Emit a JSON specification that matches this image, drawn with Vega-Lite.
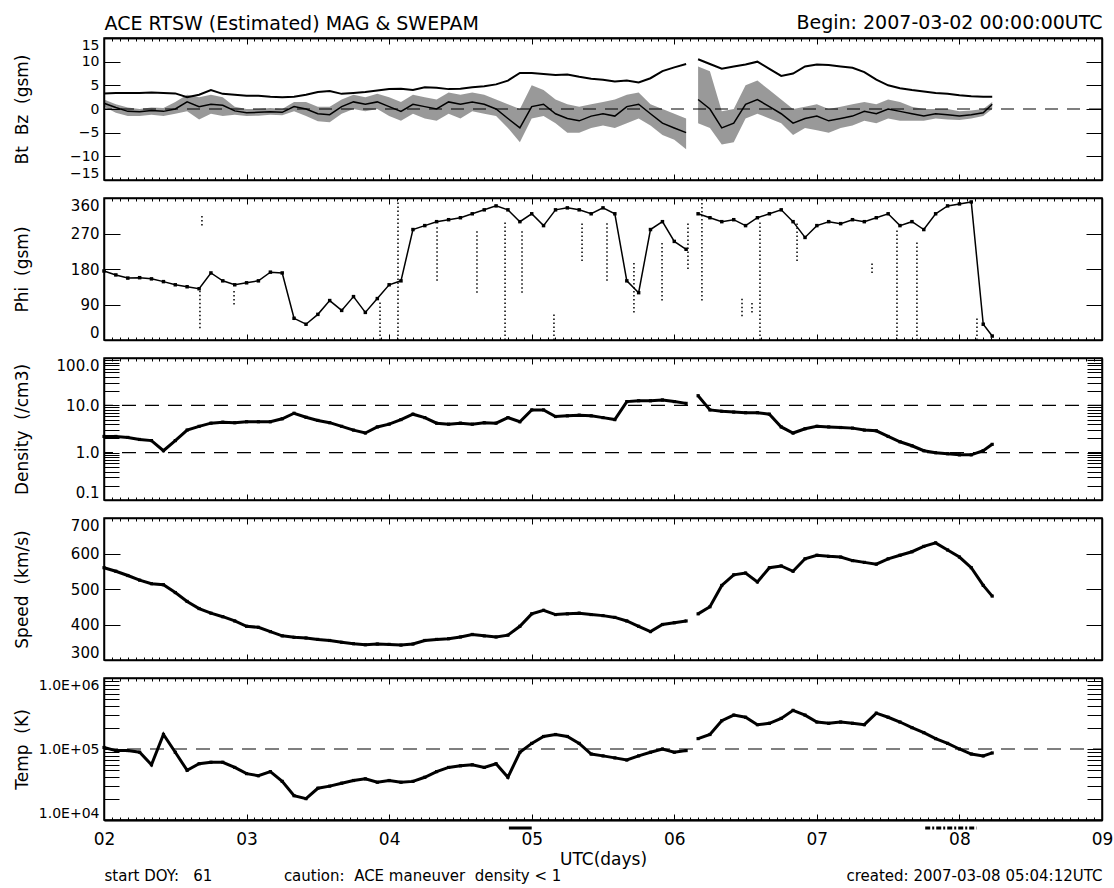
{
  "$schema": "https://vega.github.io/schema/vega-lite/v6.json",
  "background": "white",
  "padding": {"left": 12, "top": 12, "right": 5, "bottom": 5},
  "spacing": 18,
  "bounds": "flush",
  "config": {
    "font": "DejaVu Sans",
    "view": {"stroke": "black", "strokeWidth": 1.5},
    "axis": {"grid": false, "domainColor": "black", "domainWidth": 1.5, "tickColor": "black", "tickWidth": 1, "labelColor": "black", "titleColor": "black", "labelOverlap": false, "titleFontWeight": "normal", "labelFontSize": 15, "titleFontSize": 17, "labelFont": "DejaVu Sans", "titleFont": "DejaVu Sans"}
  },
  "datasets": {
    "sw": [
      {"t":2.000,"seg":1,"bt":3.3,"bz":1.2,"bzl":0.5,"bzh":2.0,"phi":175,"n":2.2,"v":560,"T":105000},
      {"t":2.083,"seg":1,"bt":3.4,"bz":0.3,"bzl":-0.8,"bzh":1.0,"phi":165,"n":2.2,"v":550,"T":95000},
      {"t":2.167,"seg":1,"bt":3.4,"bz":-0.5,"bzl":-1.5,"bzh":0.3,"phi":157,"n":2.1,"v":538,"T":95000},
      {"t":2.250,"seg":1,"bt":3.4,"bz":-0.6,"bzl":-1.5,"bzh":0.0,"phi":158,"n":1.9,"v":525,"T":90000},
      {"t":2.333,"seg":1,"bt":3.5,"bz":-0.3,"bzl":-1.2,"bzh":0.3,"phi":155,"n":1.8,"v":515,"T":60000},
      {"t":2.417,"seg":1,"bt":3.4,"bz":-0.5,"bzl":-1.5,"bzh":0.2,"phi":148,"n":1.1,"v":512,"T":160000},
      {"t":2.500,"seg":1,"bt":3.3,"bz":0.0,"bzl":-1.0,"bzh":1.5,"phi":140,"n":1.8,"v":490,"T":90000},
      {"t":2.583,"seg":1,"bt":2.5,"bz":1.5,"bzl":-0.5,"bzh":3.0,"phi":135,"n":3.0,"v":465,"T":50000},
      {"t":2.667,"seg":1,"bt":3.0,"bz":0.5,"bzl":-2.2,"bzh":2.5,"phi":130,"n":3.6,"v":445,"T":62000},
      {"t":2.750,"seg":1,"bt":4.0,"bz":1.0,"bzl":-1.0,"bzh":3.0,"phi":170,"n":4.2,"v":432,"T":65000},
      {"t":2.833,"seg":1,"bt":3.2,"bz":0.8,"bzl":-1.5,"bzh":2.5,"phi":150,"n":4.4,"v":422,"T":65000},
      {"t":2.917,"seg":1,"bt":3.0,"bz":-0.4,"bzl":-1.2,"bzh":0.5,"phi":140,"n":4.3,"v":410,"T":55000},
      {"t":3.000,"seg":1,"bt":2.8,"bz":-0.8,"bzl":-1.5,"bzh":0.0,"phi":145,"n":4.5,"v":395,"T":45000},
      {"t":3.083,"seg":1,"bt":2.8,"bz":-0.7,"bzl":-1.4,"bzh":0.0,"phi":150,"n":4.5,"v":392,"T":42000},
      {"t":3.167,"seg":1,"bt":2.6,"bz":-0.6,"bzl":-1.2,"bzh":0.2,"phi":172,"n":4.5,"v":380,"T":48000},
      {"t":3.250,"seg":1,"bt":2.5,"bz":-0.7,"bzl":-1.3,"bzh":0.0,"phi":170,"n":5.2,"v":368,"T":35000},
      {"t":3.333,"seg":1,"bt":2.6,"bz":0.5,"bzl":-0.5,"bzh":1.5,"phi":55,"n":6.8,"v":364,"T":22000},
      {"t":3.417,"seg":1,"bt":3.0,"bz":0.0,"bzl":-1.5,"bzh":1.5,"phi":40,"n":5.6,"v":362,"T":20000},
      {"t":3.500,"seg":1,"bt":3.6,"bz":-1.0,"bzl":-2.6,"bzh":0.5,"phi":65,"n":4.8,"v":358,"T":28000},
      {"t":3.583,"seg":1,"bt":3.8,"bz":-1.2,"bzl":-2.8,"bzh":0.5,"phi":100,"n":4.3,"v":355,"T":30000},
      {"t":3.667,"seg":1,"bt":3.2,"bz":0.5,"bzl":-1.0,"bzh":2.0,"phi":75,"n":3.6,"v":350,"T":33000},
      {"t":3.750,"seg":1,"bt":3.4,"bz":1.5,"bzl":0.0,"bzh":3.0,"phi":110,"n":3.0,"v":346,"T":36000},
      {"t":3.833,"seg":1,"bt":3.6,"bz":1.0,"bzl":-0.5,"bzh":2.5,"phi":70,"n":2.6,"v":343,"T":38000},
      {"t":3.917,"seg":1,"bt":3.9,"bz":1.5,"bzl":0.0,"bzh":3.2,"phi":105,"n":3.5,"v":345,"T":34000},
      {"t":4.000,"seg":1,"bt":4.2,"bz":0.5,"bzl":-1.5,"bzh":2.5,"phi":140,"n":4.0,"v":344,"T":36000},
      {"t":4.083,"seg":1,"bt":4.3,"bz":-0.5,"bzl":-2.5,"bzh":1.5,"phi":150,"n":5.0,"v":342,"T":34000},
      {"t":4.167,"seg":1,"bt":4.0,"bz":1.0,"bzl":-1.0,"bzh":3.0,"phi":280,"n":6.5,"v":345,"T":35000},
      {"t":4.250,"seg":1,"bt":4.6,"bz":0.5,"bzl":-2.0,"bzh":2.5,"phi":290,"n":5.5,"v":355,"T":40000},
      {"t":4.333,"seg":1,"bt":4.5,"bz":0.0,"bzl":-2.5,"bzh":2.0,"phi":300,"n":4.2,"v":358,"T":48000},
      {"t":4.417,"seg":1,"bt":4.2,"bz":1.5,"bzl":-1.0,"bzh":3.5,"phi":305,"n":4.0,"v":360,"T":55000},
      {"t":4.500,"seg":1,"bt":4.3,"bz":1.0,"bzl":-2.0,"bzh":3.0,"phi":310,"n":4.2,"v":365,"T":58000},
      {"t":4.583,"seg":1,"bt":4.6,"bz":1.5,"bzl":-0.5,"bzh":3.5,"phi":320,"n":4.0,"v":372,"T":60000},
      {"t":4.667,"seg":1,"bt":4.8,"bz":1.0,"bzl":-1.0,"bzh":3.0,"phi":330,"n":4.3,"v":368,"T":55000},
      {"t":4.750,"seg":1,"bt":5.2,"bz":0.0,"bzl":-1.5,"bzh":2.0,"phi":340,"n":4.2,"v":365,"T":62000},
      {"t":4.833,"seg":1,"bt":6.0,"bz":-2.0,"bzl":-4.0,"bzh":1.0,"phi":330,"n":5.5,"v":370,"T":40000},
      {"t":4.917,"seg":1,"bt":7.6,"bz":-4.0,"bzl":-7.0,"bzh":0.0,"phi":300,"n":4.5,"v":395,"T":90000},
      {"t":5.000,"seg":1,"bt":7.6,"bz":0.5,"bzl":-2.0,"bzh":5.0,"phi":320,"n":8.0,"v":430,"T":120000},
      {"t":5.083,"seg":1,"bt":7.4,"bz":1.0,"bzl":-1.5,"bzh":4.0,"phi":290,"n":8.0,"v":440,"T":150000},
      {"t":5.167,"seg":1,"bt":7.2,"bz":-1.0,"bzl":-3.0,"bzh":2.0,"phi":330,"n":5.8,"v":428,"T":160000},
      {"t":5.250,"seg":1,"bt":7.3,"bz":-2.0,"bzl":-5.0,"bzh":1.0,"phi":335,"n":6.0,"v":430,"T":150000},
      {"t":5.333,"seg":1,"bt":6.8,"bz":-2.5,"bzl":-5.0,"bzh":0.5,"phi":330,"n":6.2,"v":432,"T":120000},
      {"t":5.417,"seg":1,"bt":6.4,"bz":-1.5,"bzl":-4.0,"bzh":1.0,"phi":320,"n":6.0,"v":428,"T":85000},
      {"t":5.500,"seg":1,"bt":6.2,"bz":-1.0,"bzl":-3.5,"bzh":1.5,"phi":335,"n":5.5,"v":425,"T":80000},
      {"t":5.583,"seg":1,"bt":5.8,"bz":-1.5,"bzl":-4.0,"bzh":2.0,"phi":320,"n":5.0,"v":420,"T":75000},
      {"t":5.667,"seg":1,"bt":6.0,"bz":0.5,"bzl":-3.0,"bzh":3.0,"phi":150,"n":12.0,"v":410,"T":70000},
      {"t":5.750,"seg":1,"bt":5.6,"bz":1.0,"bzl":-2.0,"bzh":3.5,"phi":120,"n":12.5,"v":395,"T":80000},
      {"t":5.833,"seg":1,"bt":6.5,"bz":-1.0,"bzl":-3.5,"bzh":1.0,"phi":280,"n":12.5,"v":380,"T":90000},
      {"t":5.917,"seg":1,"bt":8.0,"bz":-3.0,"bzl":-5.5,"bzh":0.0,"phi":300,"n":13.0,"v":400,"T":100000},
      {"t":6.000,"seg":1,"bt":8.8,"bz":-4.0,"bzl":-6.5,"bzh":-1.0,"phi":250,"n":12.0,"v":405,"T":90000},
      {"t":6.083,"seg":1,"bt":9.5,"bz":-5.0,"bzl":-8.5,"bzh":-2.0,"phi":230,"n":11.0,"v":410,"T":95000},
      {"t":6.167,"seg":2,"bt":10.5,"bz":2.0,"bzl":-3.0,"bzh":9.0,"phi":320,"n":16.0,"v":430,"T":140000},
      {"t":6.250,"seg":2,"bt":9.5,"bz":0.0,"bzl":-4.0,"bzh":8.0,"phi":310,"n":8.0,"v":450,"T":160000},
      {"t":6.333,"seg":2,"bt":8.5,"bz":-4.0,"bzl":-7.5,"bzh":-0.5,"phi":300,"n":7.5,"v":510,"T":250000},
      {"t":6.417,"seg":2,"bt":9.0,"bz":-3.0,"bzl":-7.0,"bzh":0.0,"phi":305,"n":7.2,"v":540,"T":300000},
      {"t":6.500,"seg":2,"bt":9.4,"bz":1.0,"bzl":-2.0,"bzh":5.0,"phi":290,"n":7.0,"v":545,"T":280000},
      {"t":6.583,"seg":2,"bt":10.0,"bz":2.0,"bzl":-1.0,"bzh":6.0,"phi":310,"n":7.0,"v":520,"T":220000},
      {"t":6.667,"seg":2,"bt":8.5,"bz":0.5,"bzl":-2.0,"bzh":4.0,"phi":320,"n":6.5,"v":560,"T":230000},
      {"t":6.750,"seg":2,"bt":7.0,"bz":-1.0,"bzl":-3.0,"bzh":2.0,"phi":330,"n":3.5,"v":565,"T":270000},
      {"t":6.833,"seg":2,"bt":7.5,"bz":-3.0,"bzl":-5.5,"bzh":0.0,"phi":300,"n":2.6,"v":550,"T":350000},
      {"t":6.917,"seg":2,"bt":9.0,"bz":-2.0,"bzl":-4.0,"bzh":0.5,"phi":260,"n":3.2,"v":585,"T":300000},
      {"t":7.000,"seg":2,"bt":9.4,"bz":-1.5,"bzl":-4.5,"bzh":1.0,"phi":290,"n":3.6,"v":595,"T":240000},
      {"t":7.083,"seg":2,"bt":9.3,"bz":-2.5,"bzl":-5.0,"bzh":0.0,"phi":300,"n":3.5,"v":592,"T":230000},
      {"t":7.167,"seg":2,"bt":9.0,"bz":-2.0,"bzl":-4.0,"bzh":0.5,"phi":295,"n":3.4,"v":590,"T":240000},
      {"t":7.250,"seg":2,"bt":8.7,"bz":-1.5,"bzl":-3.5,"bzh":1.0,"phi":305,"n":3.3,"v":580,"T":230000},
      {"t":7.333,"seg":2,"bt":7.8,"bz":-0.5,"bzl":-2.5,"bzh":1.5,"phi":300,"n":3.0,"v":575,"T":220000},
      {"t":7.417,"seg":2,"bt":6.2,"bz":-1.0,"bzl":-3.0,"bzh":1.0,"phi":310,"n":2.9,"v":570,"T":320000},
      {"t":7.500,"seg":2,"bt":5.0,"bz":0.0,"bzl":-2.0,"bzh":2.0,"phi":320,"n":2.2,"v":585,"T":280000},
      {"t":7.583,"seg":2,"bt":4.4,"bz":-0.5,"bzl":-2.5,"bzh":1.5,"phi":290,"n":1.7,"v":595,"T":240000},
      {"t":7.667,"seg":2,"bt":4.0,"bz":-1.0,"bzl":-2.5,"bzh":0.5,"phi":300,"n":1.4,"v":605,"T":200000},
      {"t":7.750,"seg":2,"bt":3.7,"bz":-1.5,"bzl":-2.5,"bzh":0.0,"phi":280,"n":1.1,"v":620,"T":170000},
      {"t":7.833,"seg":2,"bt":3.4,"bz":-1.0,"bzl":-2.0,"bzh":0.0,"phi":320,"n":1.0,"v":630,"T":140000},
      {"t":7.917,"seg":2,"bt":3.2,"bz":-1.2,"bzl":-2.2,"bzh":0.0,"phi":340,"n":0.95,"v":610,"T":120000},
      {"t":8.000,"seg":2,"bt":2.9,"bz":-1.5,"bzl":-2.3,"bzh":-0.5,"phi":345,"n":0.9,"v":590,"T":100000},
      {"t":8.083,"seg":2,"bt":2.7,"bz":-1.2,"bzl":-2.0,"bzh":-0.3,"phi":350,"n":0.9,"v":560,"T":85000},
      {"t":8.167,"seg":2,"bt":2.6,"bz":-0.8,"bzl":-1.5,"bzh":0.0,"phi":40,"n":1.1,"v":510,"T":80000},
      {"t":8.230,"seg":2,"bt":2.6,"bz":1.0,"bzl":0.0,"bzh":1.5,"phi":10,"n":1.5,"v":480,"T":88000}
    ],
    "streaks": [
      {"t":2.673,"lo":30,"hi":130},{"t":2.687,"lo":290,"hi":320},{"t":2.912,"lo":90,"hi":130},
      {"t":3.936,"lo":0,"hi":100},{"t":4.062,"lo":0,"hi":360},{"t":4.336,"lo":150,"hi":290},
      {"t":4.616,"lo":120,"hi":280},{"t":4.813,"lo":0,"hi":300},{"t":4.932,"lo":120,"hi":280},
      {"t":5.156,"lo":0,"hi":70},{"t":5.353,"lo":200,"hi":300},{"t":5.528,"lo":150,"hi":300},
      {"t":5.717,"lo":70,"hi":200},{"t":5.914,"lo":100,"hi":250},{"t":6.096,"lo":180,"hi":300},
      {"t":6.194,"lo":100,"hi":360},{"t":6.475,"lo":60,"hi":110},{"t":6.545,"lo":70,"hi":100},
      {"t":6.601,"lo":0,"hi":300},{"t":6.861,"lo":200,"hi":300},{"t":7.387,"lo":170,"hi":200},
      {"t":7.562,"lo":0,"hi":280},{"t":7.702,"lo":0,"hi":250},{"t":8.123,"lo":0,"hi":60}
    ],
    "nref": [{"n": 10}, {"n": 1}],
    "man": [{"t0": 4.84, "t1": 5.0, "kind": "solid"}, {"t0": 7.76, "t1": 8.12, "kind": "dashed"}]
  },
  "vconcat": [
    {
      "width": 998, "height": 142,
      "resolve": {"axis": {"x": "independent", "y": "independent"}},
      "layer": [
        {"data": {"values": [{}]}, "mark": {"type": "rule", "color": "black", "strokeWidth": 1.2, "strokeDash": [13, 9]},
         "encoding": {"y": {"datum": 0, "type": "quantitative", "axis": null}}},
        {"data": {"name": "sw"}, "mark": {"type": "area", "color": "black", "opacity": 0.4},
         "encoding": {
           "x": {"field": "t", "type": "quantitative", "scale": {"domain": [2, 9], "nice": false, "zero": false},
                 "axis": {"orient": "bottom", "values": [2,2.0556,2.1111,2.1667,2.2222,2.2778,2.3333,2.3889,2.4444,2.5,2.5556,2.6111,2.6667,2.7222,2.7778,2.8333,2.8889,2.9444,3,3.0556,3.1111,3.1667,3.2222,3.2778,3.3333,3.3889,3.4444,3.5,3.5556,3.6111,3.6667,3.7222,3.7778,3.8333,3.8889,3.9444,4,4.0556,4.1111,4.1667,4.2222,4.2778,4.3333,4.3889,4.4444,4.5,4.5556,4.6111,4.6667,4.7222,4.7778,4.8333,4.8889,4.9444,5,5.0556,5.1111,5.1667,5.2222,5.2778,5.3333,5.3889,5.4444,5.5,5.5556,5.6111,5.6667,5.7222,5.7778,5.8333,5.8889,5.9444,6,6.0556,6.1111,6.1667,6.2222,6.2778,6.3333,6.3889,6.4444,6.5,6.5556,6.6111,6.6667,6.7222,6.7778,6.8333,6.8889,6.9444,7,7.0556,7.1111,7.1667,7.2222,7.2778,7.3333,7.3889,7.4444,7.5,7.5556,7.6111,7.6667,7.7222,7.7778,7.8333,7.8889,7.9444,8,8.0556,8.1111,8.1667,8.2222,8.2778,8.3333,8.3889,8.4444,8.5,8.5556,8.6111,8.6667,8.7222,8.7778,8.8333,8.8889,8.9444,9], "tickSize": {"condition": {"test": "datum.value % 1 === 0", "value": -6}, "value": -3}, "labels": false, "title": null}},
           "y": {"field": "bzl", "type": "quantitative", "scale": {"domain": [-15, 15], "nice": false, "zero": false},
                 "axis": {"orient": "left", "values": [-15,-10,-5,0,5,10,15], "tickSize": -16, "labelPadding": 21, "labelFlush": true, "labelFontSize": 14, "title": "Bt\u00a0 Bz\u00a0 (gsm)", "titleX": -73, "titleY": 71, "titleAngle": 270, "titleBaseline": "bottom", "titleAlign": "center"}},
           "y2": {"field": "bzh"},
           "detail": {"field": "seg"}
         }},
        {"data": {"name": "sw"}, "mark": {"type": "line", "color": "black", "strokeWidth": 1.5},
         "encoding": {
           "x": {"field": "t", "type": "quantitative",
                 "axis": {"orient": "top", "values": [2,2.0556,2.1111,2.1667,2.2222,2.2778,2.3333,2.3889,2.4444,2.5,2.5556,2.6111,2.6667,2.7222,2.7778,2.8333,2.8889,2.9444,3,3.0556,3.1111,3.1667,3.2222,3.2778,3.3333,3.3889,3.4444,3.5,3.5556,3.6111,3.6667,3.7222,3.7778,3.8333,3.8889,3.9444,4,4.0556,4.1111,4.1667,4.2222,4.2778,4.3333,4.3889,4.4444,4.5,4.5556,4.6111,4.6667,4.7222,4.7778,4.8333,4.8889,4.9444,5,5.0556,5.1111,5.1667,5.2222,5.2778,5.3333,5.3889,5.4444,5.5,5.5556,5.6111,5.6667,5.7222,5.7778,5.8333,5.8889,5.9444,6,6.0556,6.1111,6.1667,6.2222,6.2778,6.3333,6.3889,6.4444,6.5,6.5556,6.6111,6.6667,6.7222,6.7778,6.8333,6.8889,6.9444,7,7.0556,7.1111,7.1667,7.2222,7.2778,7.3333,7.3889,7.4444,7.5,7.5556,7.6111,7.6667,7.7222,7.7778,7.8333,7.8889,7.9444,8,8.0556,8.1111,8.1667,8.2222,8.2778,8.3333,8.3889,8.4444,8.5,8.5556,8.6111,8.6667,8.7222,8.7778,8.8333,8.8889,8.9444,9], "tickSize": {"condition": {"test": "datum.value % 1 === 0", "value": -6}, "value": -3}, "labels": false,
                          "title": "Begin: 2007-03-02 00:00:00UTC", "titleAnchor": "end", "titleAlign": "right", "titleBaseline": "bottom", "titlePadding": 5, "titleFontSize": 19, "minExtent": 0}},
           "y": {"field": "bz", "type": "quantitative",
                 "axis": {"orient": "right", "values": [-15,-10,-5,0,5,10,15], "tickSize": -16, "labels": false, "title": null}},
           "detail": {"field": "seg"}
         }},
        {"data": {"name": "sw"}, "mark": {"type": "line", "color": "black", "strokeWidth": 2},
         "encoding": {
           "x": {"field": "t", "type": "quantitative",
                 "axis": {"orient": "top", "ticks": false, "labels": false, "title": "ACE RTSW (Estimated) MAG & SWEPAM", "titleAnchor": "start", "titleAlign": "left", "titleBaseline": "bottom", "titlePadding": 5, "titleFontSize": 19, "minExtent": 0}},
           "y": {"field": "bt", "type": "quantitative", "axis": null},
           "detail": {"field": "seg"}
         }}
      ]
    },
    {
      "width": 998, "height": 142,
      "resolve": {"axis": {"x": "independent", "y": "independent"}},
      "layer": [
        {"data": {"name": "streaks"}, "mark": {"type": "rule", "color": "black", "strokeWidth": 1.5, "strokeDash": [1.5, 2.5]},
         "encoding": {
           "x": {"field": "t", "type": "quantitative", "axis": null},
           "y": {"field": "lo", "type": "quantitative", "axis": null},
           "y2": {"field": "hi"}
         }},
        {"data": {"name": "sw"}, "mark": {"type": "line", "color": "black", "strokeWidth": 1.5},
         "encoding": {
           "x": {"field": "t", "type": "quantitative", "scale": {"domain": [2, 9], "nice": false, "zero": false},
                 "axis": {"orient": "bottom", "values": [2,2.0556,2.1111,2.1667,2.2222,2.2778,2.3333,2.3889,2.4444,2.5,2.5556,2.6111,2.6667,2.7222,2.7778,2.8333,2.8889,2.9444,3,3.0556,3.1111,3.1667,3.2222,3.2778,3.3333,3.3889,3.4444,3.5,3.5556,3.6111,3.6667,3.7222,3.7778,3.8333,3.8889,3.9444,4,4.0556,4.1111,4.1667,4.2222,4.2778,4.3333,4.3889,4.4444,4.5,4.5556,4.6111,4.6667,4.7222,4.7778,4.8333,4.8889,4.9444,5,5.0556,5.1111,5.1667,5.2222,5.2778,5.3333,5.3889,5.4444,5.5,5.5556,5.6111,5.6667,5.7222,5.7778,5.8333,5.8889,5.9444,6,6.0556,6.1111,6.1667,6.2222,6.2778,6.3333,6.3889,6.4444,6.5,6.5556,6.6111,6.6667,6.7222,6.7778,6.8333,6.8889,6.9444,7,7.0556,7.1111,7.1667,7.2222,7.2778,7.3333,7.3889,7.4444,7.5,7.5556,7.6111,7.6667,7.7222,7.7778,7.8333,7.8889,7.9444,8,8.0556,8.1111,8.1667,8.2222,8.2778,8.3333,8.3889,8.4444,8.5,8.5556,8.6111,8.6667,8.7222,8.7778,8.8333,8.8889,8.9444,9], "tickSize": {"condition": {"test": "datum.value % 1 === 0", "value": -6}, "value": -3}, "labels": false, "title": null}},
           "y": {"field": "phi", "type": "quantitative", "scale": {"domain": [0, 360], "nice": false, "zero": false},
                 "axis": {"orient": "left", "values": [0, 90, 180, 270, 360], "tickSize": -16, "labelPadding": 21, "labelFlush": true, "title": "Phi\u00a0 (gsm)", "titleX": -73, "titleY": 71, "titleAngle": 270, "titleBaseline": "bottom", "titleAlign": "center"}},
           "detail": {"field": "seg"}
         }},
        {"data": {"name": "sw"}, "mark": {"type": "point", "shape": "square", "filled": true, "color": "black", "size": 12, "opacity": 1},
         "encoding": {
           "x": {"field": "t", "type": "quantitative",
                 "axis": {"orient": "top", "values": [2,2.0556,2.1111,2.1667,2.2222,2.2778,2.3333,2.3889,2.4444,2.5,2.5556,2.6111,2.6667,2.7222,2.7778,2.8333,2.8889,2.9444,3,3.0556,3.1111,3.1667,3.2222,3.2778,3.3333,3.3889,3.4444,3.5,3.5556,3.6111,3.6667,3.7222,3.7778,3.8333,3.8889,3.9444,4,4.0556,4.1111,4.1667,4.2222,4.2778,4.3333,4.3889,4.4444,4.5,4.5556,4.6111,4.6667,4.7222,4.7778,4.8333,4.8889,4.9444,5,5.0556,5.1111,5.1667,5.2222,5.2778,5.3333,5.3889,5.4444,5.5,5.5556,5.6111,5.6667,5.7222,5.7778,5.8333,5.8889,5.9444,6,6.0556,6.1111,6.1667,6.2222,6.2778,6.3333,6.3889,6.4444,6.5,6.5556,6.6111,6.6667,6.7222,6.7778,6.8333,6.8889,6.9444,7,7.0556,7.1111,7.1667,7.2222,7.2778,7.3333,7.3889,7.4444,7.5,7.5556,7.6111,7.6667,7.7222,7.7778,7.8333,7.8889,7.9444,8,8.0556,8.1111,8.1667,8.2222,8.2778,8.3333,8.3889,8.4444,8.5,8.5556,8.6111,8.6667,8.7222,8.7778,8.8333,8.8889,8.9444,9], "tickSize": {"condition": {"test": "datum.value % 1 === 0", "value": -6}, "value": -3}, "labels": false, "title": null}},
           "y": {"field": "phi", "type": "quantitative",
                 "axis": {"orient": "right", "values": [0, 90, 180, 270, 360], "tickSize": -16, "labels": false, "title": null}}
         }}
      ]
    },
    {
      "width": 998, "height": 142,
      "resolve": {"axis": {"x": "independent", "y": "independent"}},
      "layer": [
        {"data": {"name": "nref"}, "mark": {"type": "rule", "color": "black", "strokeWidth": 1.2, "strokeDash": [14, 9]},
         "encoding": {"y": {"field": "n", "type": "quantitative", "axis": null}}},
        {"data": {"name": "sw"}, "mark": {"type": "line", "color": "black", "strokeWidth": 3},
         "encoding": {
           "x": {"field": "t", "type": "quantitative", "scale": {"domain": [2, 9], "nice": false, "zero": false},
                 "axis": {"orient": "bottom", "values": [2,2.0556,2.1111,2.1667,2.2222,2.2778,2.3333,2.3889,2.4444,2.5,2.5556,2.6111,2.6667,2.7222,2.7778,2.8333,2.8889,2.9444,3,3.0556,3.1111,3.1667,3.2222,3.2778,3.3333,3.3889,3.4444,3.5,3.5556,3.6111,3.6667,3.7222,3.7778,3.8333,3.8889,3.9444,4,4.0556,4.1111,4.1667,4.2222,4.2778,4.3333,4.3889,4.4444,4.5,4.5556,4.6111,4.6667,4.7222,4.7778,4.8333,4.8889,4.9444,5,5.0556,5.1111,5.1667,5.2222,5.2778,5.3333,5.3889,5.4444,5.5,5.5556,5.6111,5.6667,5.7222,5.7778,5.8333,5.8889,5.9444,6,6.0556,6.1111,6.1667,6.2222,6.2778,6.3333,6.3889,6.4444,6.5,6.5556,6.6111,6.6667,6.7222,6.7778,6.8333,6.8889,6.9444,7,7.0556,7.1111,7.1667,7.2222,7.2778,7.3333,7.3889,7.4444,7.5,7.5556,7.6111,7.6667,7.7222,7.7778,7.8333,7.8889,7.9444,8,8.0556,8.1111,8.1667,8.2222,8.2778,8.3333,8.3889,8.4444,8.5,8.5556,8.6111,8.6667,8.7222,8.7778,8.8333,8.8889,8.9444,9], "tickSize": {"condition": {"test": "datum.value % 1 === 0", "value": -6}, "value": -3}, "labels": false, "title": null}},
           "y": {"field": "n", "type": "quantitative", "scale": {"type": "log", "domain": [0.1, 100], "nice": false},
                 "axis": {"orient": "left", "values": [0.1,0.2,0.3,0.4,0.5,0.6,0.7,0.8,0.9,1,2,3,4,5,6,7,8,9,10,20,30,40,50,60,70,80,90,100], "tickSize": -15, "labelPadding": 20, "labelFlush": true,
                          "labelExpr": "datum.value == 100 ? '100.0' : datum.value == 10 ? '10.0' : datum.value == 1 ? '1.0' : datum.value == 0.1 ? '0.1' : ''",
                          "title": "Density\u00a0 (/cm3)", "titleX": -73, "titleY": 71, "titleAngle": 270, "titleBaseline": "bottom", "titleAlign": "center"}},
           "detail": {"field": "seg"}
         }},
        {"data": {"name": "sw"}, "mark": {"type": "point", "shape": "square", "filled": true, "color": "black", "size": 10, "opacity": 1},
         "encoding": {
           "x": {"field": "t", "type": "quantitative",
                 "axis": {"orient": "top", "values": [2,2.0556,2.1111,2.1667,2.2222,2.2778,2.3333,2.3889,2.4444,2.5,2.5556,2.6111,2.6667,2.7222,2.7778,2.8333,2.8889,2.9444,3,3.0556,3.1111,3.1667,3.2222,3.2778,3.3333,3.3889,3.4444,3.5,3.5556,3.6111,3.6667,3.7222,3.7778,3.8333,3.8889,3.9444,4,4.0556,4.1111,4.1667,4.2222,4.2778,4.3333,4.3889,4.4444,4.5,4.5556,4.6111,4.6667,4.7222,4.7778,4.8333,4.8889,4.9444,5,5.0556,5.1111,5.1667,5.2222,5.2778,5.3333,5.3889,5.4444,5.5,5.5556,5.6111,5.6667,5.7222,5.7778,5.8333,5.8889,5.9444,6,6.0556,6.1111,6.1667,6.2222,6.2778,6.3333,6.3889,6.4444,6.5,6.5556,6.6111,6.6667,6.7222,6.7778,6.8333,6.8889,6.9444,7,7.0556,7.1111,7.1667,7.2222,7.2778,7.3333,7.3889,7.4444,7.5,7.5556,7.6111,7.6667,7.7222,7.7778,7.8333,7.8889,7.9444,8,8.0556,8.1111,8.1667,8.2222,8.2778,8.3333,8.3889,8.4444,8.5,8.5556,8.6111,8.6667,8.7222,8.7778,8.8333,8.8889,8.9444,9], "tickSize": {"condition": {"test": "datum.value % 1 === 0", "value": -6}, "value": -3}, "labels": false, "title": null}},
           "y": {"field": "n", "type": "quantitative",
                 "axis": {"orient": "right", "values": [0.1,0.2,0.3,0.4,0.5,0.6,0.7,0.8,0.9,1,2,3,4,5,6,7,8,9,10,20,30,40,50,60,70,80,90,100], "tickSize": -15, "labels": false, "title": null}}
         }}
      ]
    },
    {
      "width": 998, "height": 142,
      "resolve": {"axis": {"x": "independent", "y": "independent"}},
      "layer": [
        {"data": {"name": "sw"}, "mark": {"type": "line", "color": "black", "strokeWidth": 3},
         "encoding": {
           "x": {"field": "t", "type": "quantitative", "scale": {"domain": [2, 9], "nice": false, "zero": false},
                 "axis": {"orient": "bottom", "values": [2,2.0556,2.1111,2.1667,2.2222,2.2778,2.3333,2.3889,2.4444,2.5,2.5556,2.6111,2.6667,2.7222,2.7778,2.8333,2.8889,2.9444,3,3.0556,3.1111,3.1667,3.2222,3.2778,3.3333,3.3889,3.4444,3.5,3.5556,3.6111,3.6667,3.7222,3.7778,3.8333,3.8889,3.9444,4,4.0556,4.1111,4.1667,4.2222,4.2778,4.3333,4.3889,4.4444,4.5,4.5556,4.6111,4.6667,4.7222,4.7778,4.8333,4.8889,4.9444,5,5.0556,5.1111,5.1667,5.2222,5.2778,5.3333,5.3889,5.4444,5.5,5.5556,5.6111,5.6667,5.7222,5.7778,5.8333,5.8889,5.9444,6,6.0556,6.1111,6.1667,6.2222,6.2778,6.3333,6.3889,6.4444,6.5,6.5556,6.6111,6.6667,6.7222,6.7778,6.8333,6.8889,6.9444,7,7.0556,7.1111,7.1667,7.2222,7.2778,7.3333,7.3889,7.4444,7.5,7.5556,7.6111,7.6667,7.7222,7.7778,7.8333,7.8889,7.9444,8,8.0556,8.1111,8.1667,8.2222,8.2778,8.3333,8.3889,8.4444,8.5,8.5556,8.6111,8.6667,8.7222,8.7778,8.8333,8.8889,8.9444,9], "tickSize": {"condition": {"test": "datum.value % 1 === 0", "value": -6}, "value": -3}, "labels": false, "title": null}},
           "y": {"field": "v", "type": "quantitative", "scale": {"domain": [300, 700], "nice": false, "zero": false},
                 "axis": {"orient": "left", "values": [300, 400, 500, 600, 700], "tickSize": -16, "labelPadding": 21, "labelFlush": true, "title": "Speed\u00a0 (km/s)", "titleX": -73, "titleY": 71, "titleAngle": 270, "titleBaseline": "bottom", "titleAlign": "center"}},
           "detail": {"field": "seg"}
         }},
        {"data": {"name": "sw"}, "mark": {"type": "point", "shape": "square", "filled": true, "color": "black", "size": 10, "opacity": 1},
         "encoding": {
           "x": {"field": "t", "type": "quantitative",
                 "axis": {"orient": "top", "values": [2,2.0556,2.1111,2.1667,2.2222,2.2778,2.3333,2.3889,2.4444,2.5,2.5556,2.6111,2.6667,2.7222,2.7778,2.8333,2.8889,2.9444,3,3.0556,3.1111,3.1667,3.2222,3.2778,3.3333,3.3889,3.4444,3.5,3.5556,3.6111,3.6667,3.7222,3.7778,3.8333,3.8889,3.9444,4,4.0556,4.1111,4.1667,4.2222,4.2778,4.3333,4.3889,4.4444,4.5,4.5556,4.6111,4.6667,4.7222,4.7778,4.8333,4.8889,4.9444,5,5.0556,5.1111,5.1667,5.2222,5.2778,5.3333,5.3889,5.4444,5.5,5.5556,5.6111,5.6667,5.7222,5.7778,5.8333,5.8889,5.9444,6,6.0556,6.1111,6.1667,6.2222,6.2778,6.3333,6.3889,6.4444,6.5,6.5556,6.6111,6.6667,6.7222,6.7778,6.8333,6.8889,6.9444,7,7.0556,7.1111,7.1667,7.2222,7.2778,7.3333,7.3889,7.4444,7.5,7.5556,7.6111,7.6667,7.7222,7.7778,7.8333,7.8889,7.9444,8,8.0556,8.1111,8.1667,8.2222,8.2778,8.3333,8.3889,8.4444,8.5,8.5556,8.6111,8.6667,8.7222,8.7778,8.8333,8.8889,8.9444,9], "tickSize": {"condition": {"test": "datum.value % 1 === 0", "value": -6}, "value": -3}, "labels": false, "title": null}},
           "y": {"field": "v", "type": "quantitative",
                 "axis": {"orient": "right", "values": [300, 400, 500, 600, 700], "tickSize": -16, "labels": false, "title": null}}
         }}
      ]
    },
    {
      "width": 998, "height": 142,
      "resolve": {"axis": {"x": "independent", "y": "independent"}},
      "layer": [
        {"data": {"values": [{}]}, "mark": {"type": "rule", "color": "black", "strokeWidth": 1.2, "strokeDash": [14, 9]},
         "encoding": {
           "x": {"datum": 2, "type": "quantitative",
                 "axis": {"orient": "bottom", "ticks": false, "labels": false, "title": "start DOY:\u00a0\u00a0 61\u00a0\u00a0\u00a0\u00a0\u00a0\u00a0\u00a0\u00a0\u00a0\u00a0\u00a0\u00a0\u00a0\u00a0\u00a0caution:\u00a0 ACE maneuver\u00a0 density < 1", "titleAnchor": "start", "titleAlign": "left", "titleBaseline": "top", "titlePadding": 48, "titleFontSize": 15, "minExtent": 0}},
           "x2": {"datum": 9},
           "y": {"datum": 100000, "type": "quantitative", "axis": null}
         }},
        {"data": {"name": "sw"}, "mark": {"type": "line", "color": "black", "strokeWidth": 3},
         "encoding": {
           "x": {"field": "t", "type": "quantitative", "scale": {"domain": [2, 9], "nice": false, "zero": false},
                 "axis": {"orient": "bottom", "values": [2,2.0556,2.1111,2.1667,2.2222,2.2778,2.3333,2.3889,2.4444,2.5,2.5556,2.6111,2.6667,2.7222,2.7778,2.8333,2.8889,2.9444,3,3.0556,3.1111,3.1667,3.2222,3.2778,3.3333,3.3889,3.4444,3.5,3.5556,3.6111,3.6667,3.7222,3.7778,3.8333,3.8889,3.9444,4,4.0556,4.1111,4.1667,4.2222,4.2778,4.3333,4.3889,4.4444,4.5,4.5556,4.6111,4.6667,4.7222,4.7778,4.8333,4.8889,4.9444,5,5.0556,5.1111,5.1667,5.2222,5.2778,5.3333,5.3889,5.4444,5.5,5.5556,5.6111,5.6667,5.7222,5.7778,5.8333,5.8889,5.9444,6,6.0556,6.1111,6.1667,6.2222,6.2778,6.3333,6.3889,6.4444,6.5,6.5556,6.6111,6.6667,6.7222,6.7778,6.8333,6.8889,6.9444,7,7.0556,7.1111,7.1667,7.2222,7.2778,7.3333,7.3889,7.4444,7.5,7.5556,7.6111,7.6667,7.7222,7.7778,7.8333,7.8889,7.9444,8,8.0556,8.1111,8.1667,8.2222,8.2778,8.3333,8.3889,8.4444,8.5,8.5556,8.6111,8.6667,8.7222,8.7778,8.8333,8.8889,8.9444,9], "tickSize": {"condition": {"test": "datum.value % 1 === 0", "value": -6}, "value": -3},
                          "labelExpr": "datum.value % 1 === 0 ? '0' + datum.value : ''", "labelPadding": 17, "labelFontSize": 17, "labelFlush": false,
                          "title": "UTC(days)", "titlePadding": 1, "titleFontSize": 17, "titleBaseline": "top"}},
           "y": {"field": "T", "type": "quantitative", "scale": {"type": "log", "domain": [10000, 1000000], "nice": false},
                 "axis": {"orient": "left", "values": [10000,20000,30000,40000,50000,60000,70000,80000,90000,100000,200000,300000,400000,500000,600000,700000,800000,900000,1000000], "tickSize": -15, "labelPadding": 20, "labelFlush": true, "labelFontSize": 14,
                          "labelExpr": "datum.value == 1000000 ? '1.0E+06' : datum.value == 100000 ? '1.0E+05' : datum.value == 10000 ? '1.0E+04' : ''",
                          "title": "Temp\u00a0 (K)", "titleX": -73, "titleY": 71, "titleAngle": 270, "titleBaseline": "bottom", "titleAlign": "center"}},
           "detail": {"field": "seg"}
         }},
        {"data": {"name": "sw"}, "mark": {"type": "point", "shape": "square", "filled": true, "color": "black", "size": 10, "opacity": 1},
         "encoding": {
           "x": {"field": "t", "type": "quantitative",
                 "axis": {"orient": "top", "values": [2,2.0556,2.1111,2.1667,2.2222,2.2778,2.3333,2.3889,2.4444,2.5,2.5556,2.6111,2.6667,2.7222,2.7778,2.8333,2.8889,2.9444,3,3.0556,3.1111,3.1667,3.2222,3.2778,3.3333,3.3889,3.4444,3.5,3.5556,3.6111,3.6667,3.7222,3.7778,3.8333,3.8889,3.9444,4,4.0556,4.1111,4.1667,4.2222,4.2778,4.3333,4.3889,4.4444,4.5,4.5556,4.6111,4.6667,4.7222,4.7778,4.8333,4.8889,4.9444,5,5.0556,5.1111,5.1667,5.2222,5.2778,5.3333,5.3889,5.4444,5.5,5.5556,5.6111,5.6667,5.7222,5.7778,5.8333,5.8889,5.9444,6,6.0556,6.1111,6.1667,6.2222,6.2778,6.3333,6.3889,6.4444,6.5,6.5556,6.6111,6.6667,6.7222,6.7778,6.8333,6.8889,6.9444,7,7.0556,7.1111,7.1667,7.2222,7.2778,7.3333,7.3889,7.4444,7.5,7.5556,7.6111,7.6667,7.7222,7.7778,7.8333,7.8889,7.9444,8,8.0556,8.1111,8.1667,8.2222,8.2778,8.3333,8.3889,8.4444,8.5,8.5556,8.6111,8.6667,8.7222,8.7778,8.8333,8.8889,8.9444,9], "tickSize": {"condition": {"test": "datum.value % 1 === 0", "value": -6}, "value": -3}, "labels": false, "title": null}},
           "y": {"field": "T", "type": "quantitative",
                 "axis": {"orient": "right", "values": [10000,20000,30000,40000,50000,60000,70000,80000,90000,100000,200000,300000,400000,500000,600000,700000,800000,900000,1000000], "tickSize": -15, "labels": false, "title": null}}
         }},
        {"data": {"name": "man"}, "mark": {"type": "rule", "color": "black", "strokeWidth": 3, "clip": false},
         "encoding": {
           "x": {"field": "t0", "type": "quantitative",
                 "axis": {"orient": "bottom", "ticks": false, "labels": false, "title": "created: 2007-03-08 05:04:12UTC", "titleAnchor": "end", "titleAlign": "right", "titleBaseline": "top", "titlePadding": 48, "titleFontSize": 15, "minExtent": 0}},
           "x2": {"field": "t1"},
           "y": {"datum": 7700, "type": "quantitative", "axis": null},
           "strokeDash": {"field": "kind", "type": "nominal", "scale": {"domain": ["solid", "dashed"], "range": [[1, 0], [5, 2, 2, 2]]}, "legend": null}
         }}
      ]
    }
  ]
}
